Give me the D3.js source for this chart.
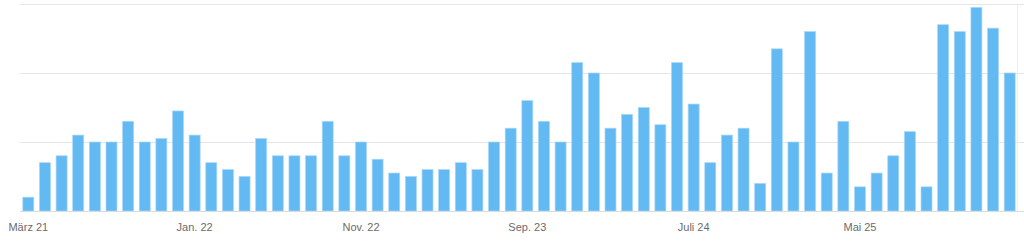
<!DOCTYPE html>
<html>
<head>
<meta charset="utf-8">
<script src="https://cdn.jsdelivr.net/npm/d3@7"></script>
<style>
  body { margin: 0; background: #fff; }
</style>
</head>
<body>
<div id="chart"></div>
<script>
// months from März 2021 to Feb. 2026
const months = d3.timeMonths(new Date(2021, 2, 1), new Date(2026, 2, 1));

const values = [
  4, 14, 16, 22, 20, 20, 26, 20, 21, 29,
  22, 14, 12, 10, 21, 16, 16, 16, 26, 16,
  20, 15, 11, 10, 12, 12, 14, 12, 20, 24,
  32, 26, 20, 43, 40, 24, 28, 30, 25, 43,
  31, 14, 22, 24, 8, 47, 20, 52, 11, 26,
  7, 11, 16, 23, 7, 54, 52, 59, 53, 40
];

const tickLabels = ['März 21', 'Jan. 22', 'Nov. 22', 'Sep. 23', 'Juli 24', 'Mai 25'];
const tickIndex = [0, 10, 20, 30, 40, 50];
const gridValues = [20, 40, 60];

const width = 1024;
const height = 243;
const margin = { top: 4, right: 6, bottom: 32, left: 20 };

const svg = d3.select('#chart')
  .append('svg')
  .attr('width', width)
  .attr('height', height);

const x = d3.scaleBand()
  .domain(d3.range(values.length))
  .range([margin.left, width - margin.right])
  .paddingInner(0.34)
  .paddingOuter(0.17);

const y = d3.scaleLinear()
  .domain([0, 60])
  .range([height - margin.bottom, margin.top]);

// grid
svg.append('g')
  .selectAll('line')
  .data(gridValues)
  .join('line')
    .attr('x1', margin.left)
    .attr('x2', width)
    .attr('y1', d => Math.round(y(d)) + 0.5)
    .attr('y2', d => Math.round(y(d)) + 0.5)
    .attr('stroke', '#e3e5e8');

// right border line
svg.append('line')
  .attr('x1', x.range()[1] - 0.5)
  .attr('x2', x.range()[1] - 0.5)
  .attr('y1', y(60))
  .attr('y2', y(0))
  .attr('stroke', '#eceef0');

svg.append('g')
  .selectAll('rect')
  .data(values)
  .join('rect')
    .attr('x', (d, i) => x(i))
    .attr('y', d => y(d))
    .attr('width', x.bandwidth())
    .attr('height', d => y(0) - y(d))
    .attr('fill', '#63b9f2')
    .attr('stroke', '#a6d7f8')
    .attr('stroke-width', 0.7);

// baseline
svg.append('line')
  .attr('x1', margin.left)
  .attr('x2', width)
  .attr('y1', Math.round(y(0)) + 0.5)
  .attr('y2', Math.round(y(0)) + 0.5)
  .attr('stroke', '#d9dbde');

const xAxis = d3.axisBottom(x)
  .tickValues(tickIndex)
  .tickFormat(i => tickLabels[tickIndex.indexOf(i)])
  .tickSize(0)
  .tickPadding(12);

svg.append('g')
  .attr('transform', `translate(0,${y(0)})`)
  .call(xAxis)
  .call(g => g.select('.domain').remove())
  .selectAll('text')
    .attr('font-family', '"Liberation Sans", Arial, sans-serif')
    .attr('font-size', '11px')
    .attr('fill', '#6b6b6b');
</script>
</body>
</html>
